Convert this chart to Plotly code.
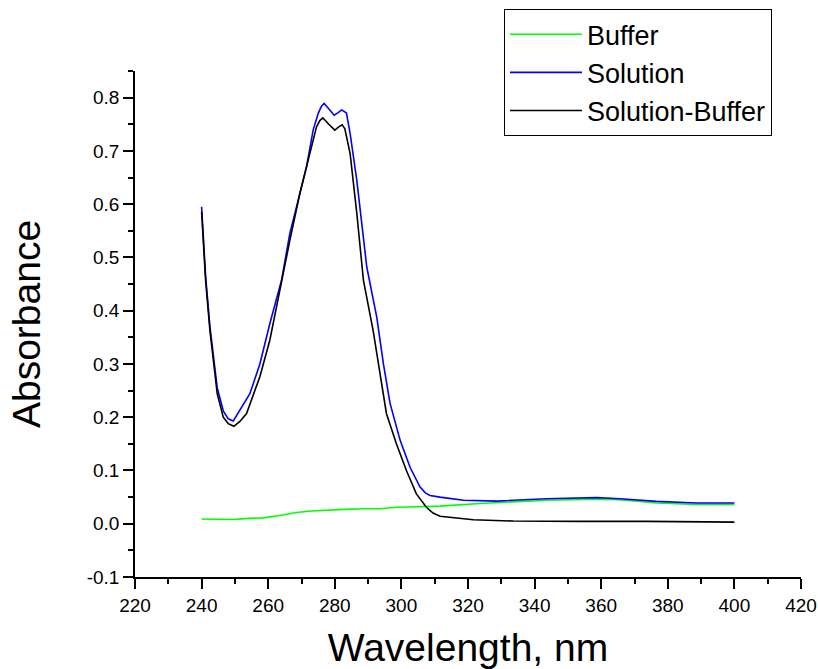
import plotly.graph_objects as go

# Buffer (green)
buf_x = [240, 244, 249.5, 254, 258.5, 263, 268.5, 273, 278.5, 283, 288.6, 293.5, 298.5, 306.6, 311.6, 323.6, 333, 343.6,
         351, 358.6, 365.6, 371, 376.6, 388.6, 400]
buf_y = [0.009, 0.008, 0.008, 0.010, 0.011, 0.015, 0.021, 0.024, 0.026, 0.027, 0.028, 0.028, 0.031, 0.033, 0.033, 0.038, 0.041,
         0.044, 0.045, 0.046, 0.045, 0.042, 0.039, 0.036, 0.036]

# Solution (blue)
sol_x = [240, 241.2, 242.5, 244.7, 246.5, 248, 249.5, 251.5, 254.5, 257.5, 260.5, 264, 266.5, 268.5, 271.5, 273.5, 275, 276, 276.8,
         278.3, 279.8, 281, 282.1, 283.5, 284.6, 286.6, 288.1, 289.6, 292.6, 294.6, 296.6, 299.6, 302.6, 305.6, 307.2, 308.6, 311.6, 318.6,
         328.6, 343.6, 358.6, 365.6, 376.6, 388.6, 400]
sol_y = [0.595, 0.465, 0.37, 0.255, 0.212, 0.197, 0.193, 0.213, 0.244, 0.300, 0.376, 0.457, 0.545, 0.595, 0.670, 0.739, 0.770, 0.784, 0.789,
         0.778, 0.767, 0.772, 0.777, 0.771, 0.733, 0.645, 0.564, 0.482, 0.388, 0.300, 0.226, 0.157, 0.106, 0.069, 0.058, 0.053, 0.050, 0.044,
         0.0425, 0.047, 0.049, 0.047, 0.042, 0.039, 0.039]

# Solution-Buffer (black)
dif_x = [240, 241.2, 242.5, 244.7, 246.5, 248, 249.7, 251.5, 253.5, 257.5, 260.5, 264, 266.5, 269.5, 272.5, 274.5, 275.5, 276.4,
         278.2, 280, 281.2, 282.2, 283, 284.6, 286.6, 288.6, 291.5, 293.5, 295.5, 298.5, 301.5, 304.5, 307.5, 309.5, 311.6, 321.6, 333.6,
         353.6, 373.6, 400]
dif_y = [0.586, 0.457, 0.363, 0.244, 0.200, 0.188, 0.183, 0.192, 0.207, 0.276, 0.345, 0.457, 0.532, 0.620, 0.695, 0.745, 0.757, 0.762,
         0.750, 0.739, 0.745, 0.749, 0.742, 0.695, 0.583, 0.457, 0.363, 0.282, 0.207, 0.150, 0.100, 0.056, 0.031, 0.020, 0.014, 0.0075, 0.005,
         0.0045, 0.0045, 0.003]

x_ticks = [220, 240, 260, 280, 300, 320, 340, 360, 380, 400, 420]
y_ticks = [-0.1, 0.0, 0.1, 0.2, 0.3, 0.4, 0.5, 0.6, 0.7, 0.8]
y_tick_text = ["-0.1", "0.0", "0.1", "0.2", "0.3", "0.4", "0.5", "0.6", "0.7", "0.8"]

fig = go.Figure()
fig.add_trace(go.Scatter(x=buf_x, y=buf_y, mode="lines", name="Buffer",
                         line=dict(color="#00ff00", width=1.6)))
fig.add_trace(go.Scatter(x=sol_x, y=sol_y, mode="lines", name="Solution",
                         line=dict(color="#0000ff", width=1.6)))
fig.add_trace(go.Scatter(x=dif_x, y=dif_y, mode="lines", name="Solution-Buffer",
                         line=dict(color="#000000", width=1.6)))

font_family = "Liberation Sans, Arial, sans-serif"
fig.update_layout(
    width=818, height=669,
    margin=dict(l=135, r=17, t=71, b=92, autoexpand=False),
    paper_bgcolor="white", plot_bgcolor="white",
    font=dict(family=font_family, color="black"),
    showlegend=True,
    legend=dict(x=0.554, y=1.122, xanchor="left", yanchor="top",
                bordercolor="black", borderwidth=1, bgcolor="white",
                font=dict(size=27, family=font_family, color="black"),
                tracegroupgap=0, itemwidth=72),
    xaxis=dict(range=[220, 420], tickvals=x_ticks, ticks="outside", ticklen=10, tickwidth=1.5,
               tickcolor="black", showline=True, linecolor="black", linewidth=1.5, automargin=False,
               showgrid=False, zeroline=False, tickfont=dict(size=19),
               minor=dict(dtick=10, ticks="outside", ticklen=5, tickwidth=1.5, tickcolor="black", showgrid=False),
               title=dict(text="Wavelength, nm", font=dict(size=39), standoff=20)),
    yaxis=dict(range=[-0.1, 0.85], tickvals=y_ticks, ticktext=y_tick_text, ticks="outside", ticklen=10, tickwidth=1.5,
               tickcolor="black", showline=True, linecolor="black", linewidth=1.5, automargin=False,
               showgrid=False, zeroline=False, tickfont=dict(size=19),
               minor=dict(dtick=0.05, tick0=0, ticks="outside", ticklen=5, tickwidth=1.5, tickcolor="black", showgrid=False),
               title=dict(text="Absorbance", font=dict(size=39), standoff=34)),
)

fig.write_html("out.html")
